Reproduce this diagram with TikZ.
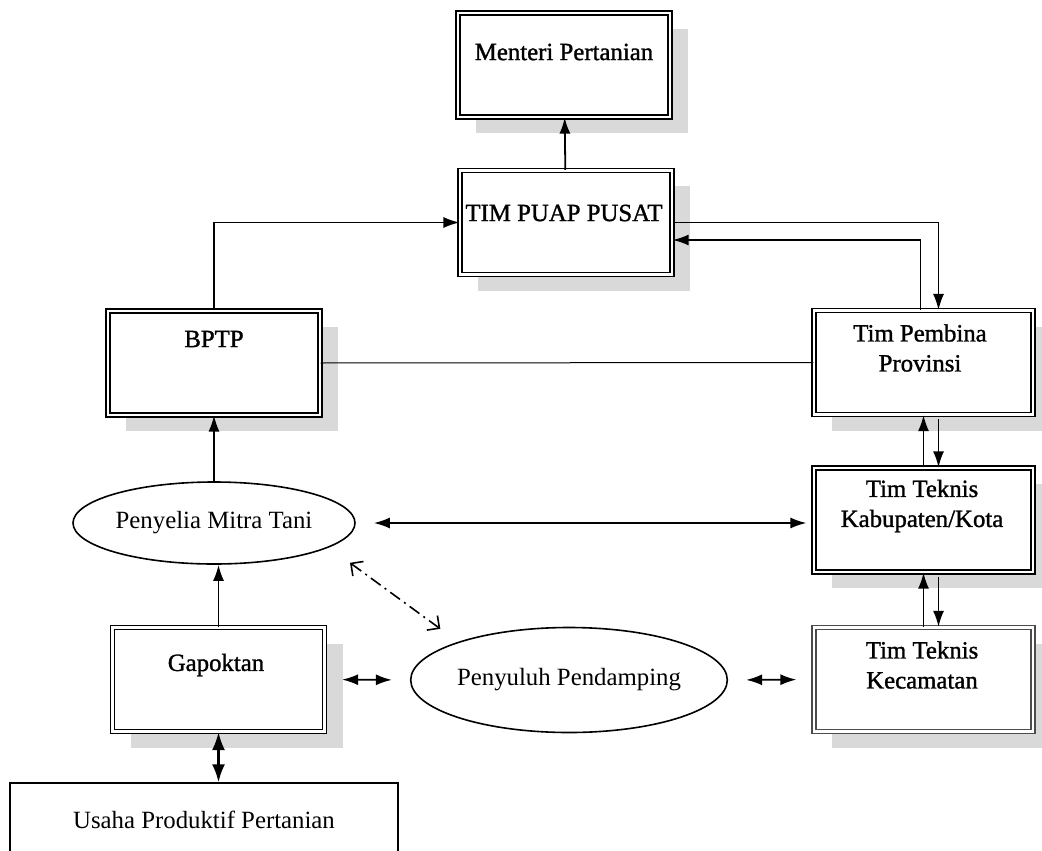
\documentclass[tikz,border=0pt]{standalone}
\usepackage{fontspec}
\setmainfont{Liberation Serif}
\newfontfamily\heavyfont{Liberation Serif}[FakeBold=1.2]
\usepackage{tikz}
\usetikzlibrary{arrows.meta,shadows,shapes.geometric}

\tikzset{
  box/.style={draw, double, double distance=1.4pt, line width=0.6pt, fill=white,
    minimum width=106pt, minimum height=52pt, inner sep=0pt,
    drop shadow={shadow xshift=9pt, shadow yshift=-8pt, fill=gray!30, opacity=1}},
  oval/.style={draw, ellipse, line width=0.8pt, minimum width=141pt, minimum height=41pt,
    inner sep=0pt, font=\fontsize{12.4}{15}\selectfont},
  lbl/.style={align=center, font=\fontsize{12.4}{15}\heavyfont},
  arr/.style={line width=0.9pt, -{Latex[length=8pt,width=5.5pt]}},
  dbl/.style={line width=0.9pt, {Latex[length=8pt,width=5.5pt]}-{Latex[length=8pt,width=5.5pt]}},
}

\begin{document}
\begin{tikzpicture}[x=0.5pt, y=-0.5pt]
\clip (0,0) rectangle (1042,850);
\fill[white] (0,0) rectangle (1042,850);

% kotak
\node[box] (menteri) at (564,65) {};
\node[box] (puap) at (566,222.5) {};
\node[box] (bptp) at (214,363) {};
\node[box, minimum width=109.5pt] (pembina) at (923.5,362.5) {};
\node[box, minimum width=109.5pt] (kab) at (923.5,520) {};
\node[box, minimum width=109.5pt, draw=black!70] (kec) at (923.5,679.5) {};
\node[box] (gapoktan) at (218.5,679.5) {};
\node[draw, line width=0.7pt, minimum width=194pt, minimum height=45pt, inner sep=0pt] (usaha) at (204,828) {};

% tulisan
\node[lbl] (menteri-t) at (564,52) {Menteri Pertanian};
\node[lbl] (puap-t) at (564,213) {TIM PUAP PUSAT};
\node[lbl] (bptp-t) at (214,339) {BPTP};
\node[lbl] (pembina-t) at (920,348) {Tim Pembina\\Provinsi};
\node[lbl] (kab-t) at (922,506) {Tim Teknis\\Kabupaten/Kota};
\node[lbl] (kec-t) at (922,665) {Tim Teknis\\Kecamatan};
\node[lbl] (gapoktan-t) at (216,665) {Gapoktan};
\node[font=\fontsize{12.4}{15}\selectfont] (usaha-t) at (204,820) {Usaha Produktif Pertanian};

% elips
\node[oval] (penyelia) at (214,523) {Penyelia Mitra Tani};
\node[oval, minimum height=52.5pt] (penyuluh) at (569,680) {Penyuluh Pendamping};

% panah
\draw[arr] (puap) -- (menteri);
\draw[arr, line width=0.7pt] (bptp.north) |- (puap.west);
\draw[arr, line width=0.7pt] (puap.east) -| ([xshift=7.5pt]pembina.north);
\draw[arr] ([xshift=-1.5pt]pembina.north) |- ([yshift=-8.75pt]puap.east);
\draw[line width=0.5pt] (bptp.east) -- (pembina.west);
\draw[arr] (kab.north) -- (kab.north |- pembina.south);
\draw[arr] ([xshift=7.5pt,yshift=-2pt]pembina.south) -- ([xshift=7.5pt]kab.north);
\draw[arr] (kec.north) -- (kec.north |- kab.south);
\draw[arr] ([xshift=7.5pt,yshift=-2pt]kab.south) -- ([xshift=7.5pt]kec.north);
\draw[arr, line width=0.7pt] (penyelia.north) -- (penyelia.north |- bptp.south);
\draw[arr] (gapoktan.north) -- (gapoktan.north |- penyelia.south);
\draw[dbl, shorten <=9pt, shorten >=3.5pt] (penyelia.east) -- (penyelia.east -| kab.west);
\draw[dbl, shorten <=8.5pt, shorten >=9pt] (gapoktan.east) -- (penyuluh.west);
\draw[dbl, shorten <=9pt, shorten >=8.5pt] (penyuluh.east) -- (kec.west);
\draw[line width=1.2pt, {Latex[length=9pt,width=6.5pt]}-{Latex[length=9pt,width=6.5pt]}]
  (gapoktan.south) -- (gapoktan.south |- usaha.north);
\draw[line width=0.8pt, dash pattern=on 6pt off 2.5pt on 1pt off 2.5pt,
  {Straight Barb[length=4.5pt]}-{Straight Barb[length=4.5pt]}, shorten <=13pt, shorten >=11pt]
  (penyelia.-12) -- (penyuluh.161);
\end{tikzpicture}
\end{document}
